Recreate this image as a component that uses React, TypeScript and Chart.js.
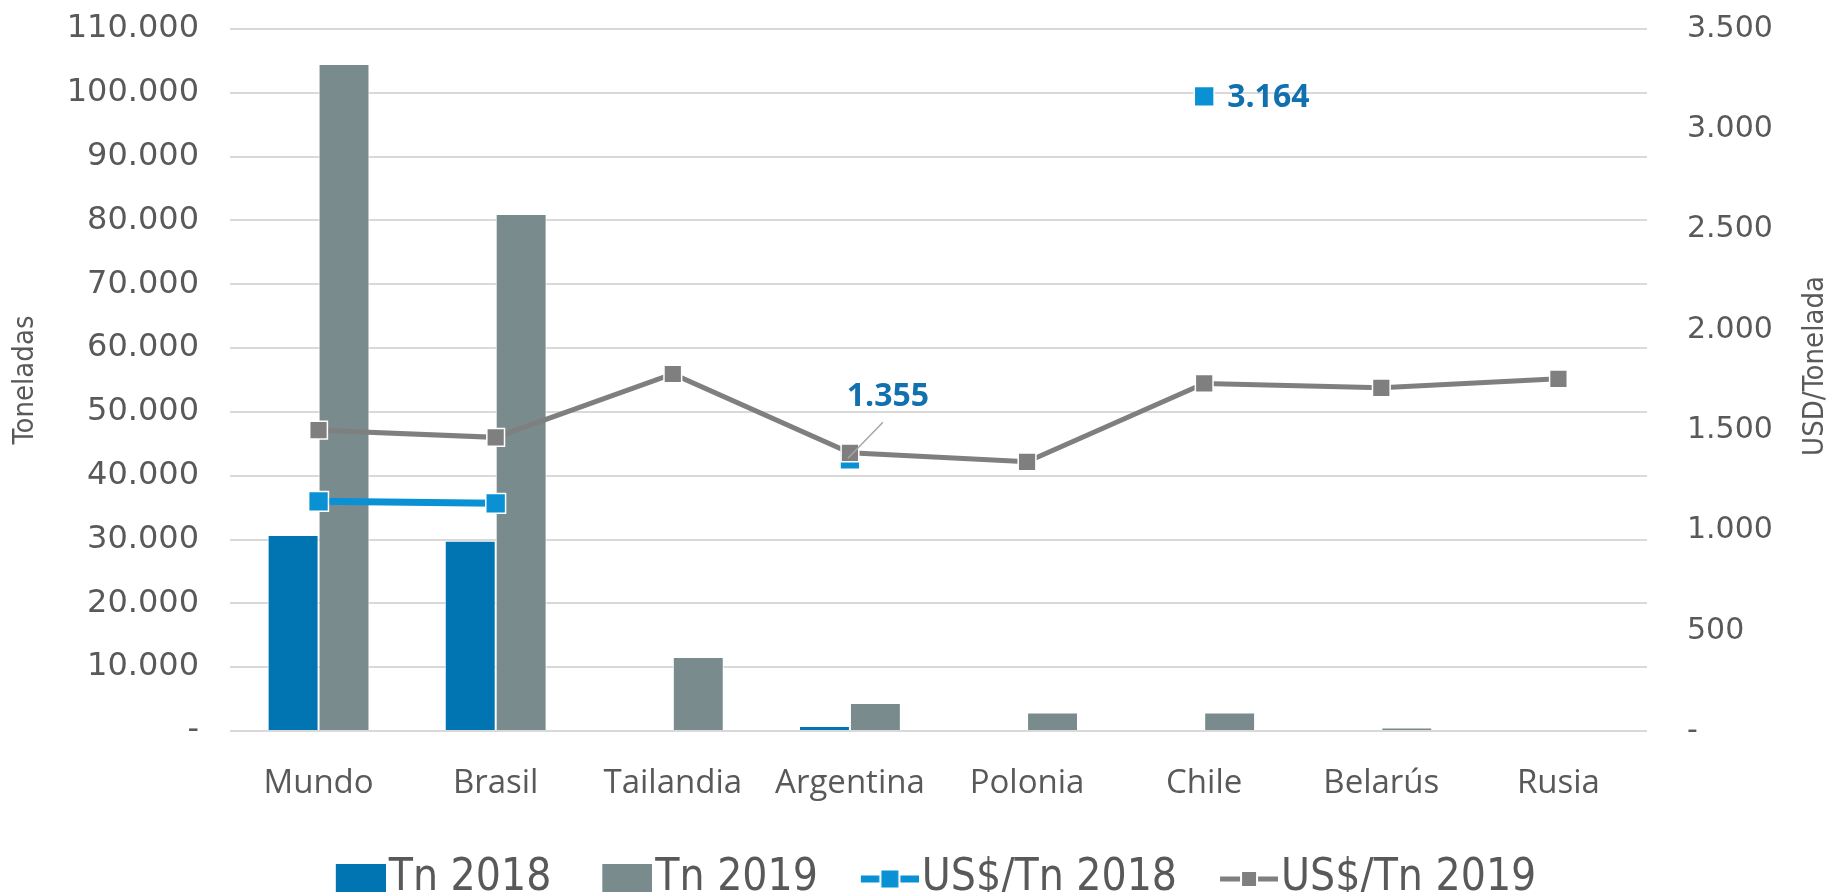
import React, { useEffect, useRef } from "react";
import { Chart, registerables } from "chart.js";

Chart.register(...registerables);

// ---- Data ----
const categories = ["Mundo", "Brasil", "Tailandia", "Argentina", "Polonia", "Chile", "Belarús", "Rusia"];
const tn2018 = [30700, 29800, null, 800, null, null, null, null];
const tn2019 = [104500, 81000, 11600, 4400, 2900, 2900, 550, 0];
const usd2018 = [1145, 1135, null, 1355, null, 3164, null, null];
const usd2019 = [1500, 1464, 1780, 1387, 1342, 1733, 1711, 1756];
const seriesNames = ["Tn 2018", "Tn 2019", "US$/Tn 2018", "US$/Tn 2019"];
const leftAxis = { min: 0, max: 110000, step: 10000, title: "Toneladas" };
const rightAxis = { min: 0, max: 3500, step: 500, title: "USD/Tonelada" };
const labeledUsd2018 = [3, 5];

// ---- Styles ----
const C_TN18 = "#0174B2";
const C_TN19 = "#7A8B8D";
const C_US18 = "#0A91D4";
const C_US19 = "#7F7F7F";
const C_LABEL = "#1170AE";
const TEXT = "#595959";
const NARROW = '"Liberation Sans Narrow", "DejaVu Sans Condensed", sans-serif';
const LEGEND_SIZE = 44;
const BOX_W = 72;

function fmt(v: number | null): string {
  if (v === null || v === undefined) return "";
  if (v === 0) return "-";
  return Math.round(v).toString().replace(/\B(?=(\d{3})+(?!\d))/g, ".");
}

const ICON_W = BOX_W + LEGEND_SIZE - 6;
const ICON_H = 36;

function barIcon(color: string) {
  const c = document.createElement("canvas");
  c.width = ICON_W;
  c.height = ICON_H;
  const g = c.getContext("2d")!;
  g.fillStyle = color;
  g.fillRect(ICON_W - 50, 3, 50, 30);
  return c;
}

function lineIcon(color: string, lw: number, sq: number) {
  const c = document.createElement("canvas");
  c.width = ICON_W;
  c.height = ICON_H;
  const g = c.getContext("2d")!;
  const w = 58;
  const x0 = ICON_W - w;
  const cy = ICON_H / 2;
  g.strokeStyle = color;
  g.lineWidth = lw;
  g.beginPath();
  g.moveTo(x0, cy);
  g.lineTo(ICON_W, cy);
  g.stroke();
  g.fillStyle = color;
  g.strokeStyle = "#ffffff";
  g.lineWidth = 2;
  g.fillRect(x0 + w / 2 - sq / 2, cy - sq / 2, sq, sq);
  g.strokeRect(x0 + w / 2 - sq / 2, cy - sq / 2, sq, sq);
  return c;
}

const labelPlugin = {
  id: "valueLabels",
  afterDatasetsDraw(chart: any) {
    const ctx = chart.ctx;
    const meta = chart.getDatasetMeta(2);
    ctx.save();
    ctx.font = 'bold 32px "Open Sans", sans-serif';
    ctx.fillStyle = C_LABEL;
    ctx.textBaseline = "middle";
    labeledUsd2018.forEach((i) => {
      const p = meta.data[i];
      if (!p) return;
      if (i === 5) {
        ctx.textAlign = "left";
        ctx.fillText(fmt(usd2018[i]), p.x + 23, p.y + 1);
      } else {
        ctx.strokeStyle = "#A6A6A6";
        ctx.lineWidth = 1.5;
        ctx.beginPath();
        ctx.moveTo(p.x - 2, p.y - 1);
        ctx.lineTo(p.x + 33, p.y - 37);
        ctx.stroke();
        ctx.textAlign = "center";
        ctx.fillText(fmt(usd2018[i]), p.x + 38, p.y - 62);
      }
    });
    // right axis title, reading bottom-to-top
    const y1 = chart.scales.y1;
    ctx.font = `29px ${NARROW}`;
    ctx.fillStyle = TEXT;
    ctx.textAlign = "center";
    ctx.textBaseline = "middle";
    ctx.translate(chart.width - 16, (chart.chartArea.top + chart.chartArea.bottom) / 2 - 14);
    ctx.rotate(-Math.PI / 2);
    ctx.fillText(y1.options.title.text, 0, 0);
    ctx.restore();
  },
};

export default function App() {
  const ref = useRef<HTMLCanvasElement>(null);

  useEffect(() => {
    const icons = [barIcon(C_TN18), barIcon(C_TN19), lineIcon(C_US18, 7, 19), lineIcon(C_US19, 5, 16)];
    const chart = new Chart(ref.current!, {
      type: "bar",
      data: {
        labels: categories,
        datasets: [
          {
            type: "bar",
            label: seriesNames[0],
            data: tn2018 as any,
            backgroundColor: C_TN18,
            borderColor: "#ffffff",
            borderWidth: 1,
            yAxisID: "y",
            order: 3,
            barPercentage: 1,
            categoryPercentage: 0.575,
          },
          {
            type: "bar",
            label: seriesNames[1],
            data: tn2019 as any,
            backgroundColor: C_TN19,
            borderColor: "#ffffff",
            borderWidth: 1,
            yAxisID: "y",
            order: 3,
            barPercentage: 1,
            categoryPercentage: 0.575,
          },
          {
            type: "line",
            label: seriesNames[2],
            data: usd2018 as any,
            borderColor: C_US18,
            backgroundColor: C_US18,
            borderWidth: 7,
            pointStyle: "rect",
            pointRadius: 14,
            pointBorderColor: "#ffffff",
            pointBorderWidth: 1.5,
            pointBackgroundColor: C_US18,
            yAxisID: "y1",
            order: 2,
            spanGaps: false,
          } as any,
          {
            type: "line",
            label: seriesNames[3],
            data: usd2019 as any,
            borderColor: C_US19,
            backgroundColor: C_US19,
            borderWidth: 5,
            pointStyle: "rect",
            pointRadius: 12.5,
            pointBorderColor: "#ffffff",
            pointBorderWidth: 1.5,
            pointBackgroundColor: C_US19,
            yAxisID: "y1",
            order: 1,
          } as any,
        ],
      },
      options: {
        animation: false,
        responsive: true,
        maintainAspectRatio: false,
        layout: { padding: { top: 29, bottom: -19, left: 0, right: 0 } },
        plugins: {
          tooltip: { enabled: false },
          legend: {
            position: "bottom",
            labels: {
              usePointStyle: true,
              pointStyleWidth: BOX_W,
              padding: 10,
              color: TEXT,
              font: { family: NARROW, size: LEGEND_SIZE },
              sort: (a: any, b: any) => a.datasetIndex - b.datasetIndex,
              generateLabels: (ch: any) => {
                const items = (Chart.defaults.plugins.legend.labels as any).generateLabels(ch);
                items.forEach((it: any) => {
                  it.pointStyle = icons[it.datasetIndex];
                });
                return items;
              },
            },
          },
        },
        scales: {
          x: {
            grid: { display: false },
            border: { display: false },
            ticks: { color: TEXT, padding: 25, font: { family: '"Open Sans", sans-serif', size: 33 } },
            afterFit: (s: any) => {
              s.height = 116;
            },
          },
          y: {
            position: "left",
            min: leftAxis.min,
            max: leftAxis.max,
            grid: { color: "#D9D9D9", lineWidth: 2, drawTicks: false },
            border: { display: false },
            ticks: {
              stepSize: leftAxis.step,
              color: TEXT,
              padding: 31,
              font: { family: '"DejaVu Sans", sans-serif', size: 32 },
              callback: (v: any) => fmt(Number(v)),
            },
            title: {
              display: true,
              text: leftAxis.title,
              color: TEXT,
              font: { family: NARROW, size: 29 },
              padding: { top: 8, bottom: 0 },
            },
            afterFit: (s: any) => {
              s.width = 230;
              s.paddingTop = 0;
              s.paddingBottom = 0;
            },
          },
          y1: {
            position: "right",
            min: rightAxis.min,
            max: rightAxis.max,
            grid: { display: false, drawTicks: false },
            border: { display: false },
            ticks: {
              stepSize: rightAxis.step,
              color: TEXT,
              padding: 40,
              font: { family: '"DejaVu Sans", sans-serif', size: 30 },
              callback: (v: any) => fmt(Number(v)),
            },
            title: { display: false, text: rightAxis.title },
            afterFit: (s: any) => {
              s.width = 184;
              s.paddingTop = 0;
              s.paddingBottom = 0;
            },
          },
        },
      },
      plugins: [labelPlugin],
    } as any);
    return () => chart.destroy();
  }, []);

  return (
    <div style={{ position: "absolute", left: 0, top: 0, width: 1831, height: 892, background: "#ffffff" }}>
      <canvas ref={ref} />
    </div>
  );
}
